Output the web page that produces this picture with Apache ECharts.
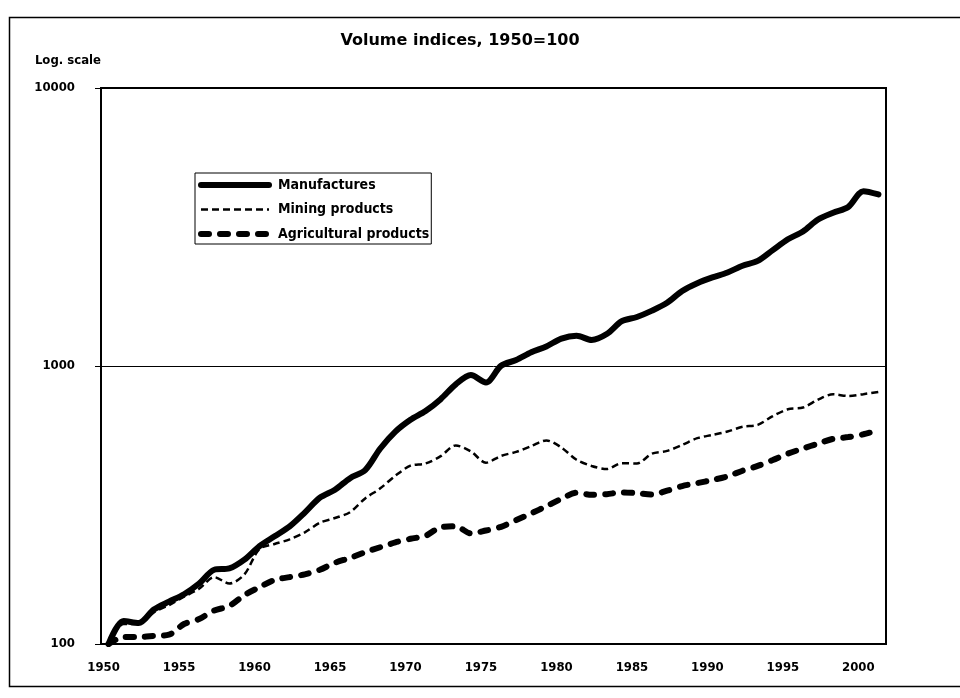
<!DOCTYPE html>
<html>
<head>
    <meta charset="utf-8">
    <title>Volume indices, 1950=100</title>
    <script src="https://cdn.jsdelivr.net/npm/echarts@6/dist/echarts.min.js"></script>
    <style>
        html, body { margin: 0; padding: 0; background: #fff; }
        #volumeChart { width: 960px; height: 698px; }
    </style>
</head>
<body>
<div id="volumeChart"></div>

<script type="text/javascript">
    // years on the category axis
    var years = [];
    for (var y = 1950; y <= 2001; y++) years.push(String(y));

    // volume indices, 1950=100
    var manufactures = [100, 121, 119, 133, 142, 151, 165, 185, 187, 201,
        225, 244, 265, 297, 336, 359, 395, 422, 505, 581,
        641, 689, 760, 859, 928, 872, 1002, 1051, 1121, 1176,
        1255, 1285, 1241, 1303, 1449, 1501, 1582, 1688, 1861, 1985,
        2083, 2170, 2294, 2388, 2611, 2856, 3048, 3363, 3558, 3733,
        4253, 4141];
    var mining = [100, 118, 118, 130, 138, 148, 158, 174, 165, 178,
        220, 229, 238, 252, 273, 284, 298, 334, 363, 403,
        438, 446, 474, 518, 493, 449, 475, 491, 515, 540,
        509, 460, 437, 426, 447, 446, 484, 495, 520, 550,
        565, 581, 605, 614, 660, 699, 709, 757, 791, 780,
        792, 807];
    var agricultural = [100, 106, 106, 107, 108, 118, 123, 132, 137, 150,
        160, 170, 174, 178, 185, 196, 204, 214, 223, 232,
        239, 245, 263, 265, 250, 256, 264, 279, 295, 313,
        333, 350, 344, 346, 351, 349, 345, 356, 370, 379,
        389, 401, 420, 437, 459, 484, 505, 526, 547, 555,
        568, 587];
    var yTicks = [100, 1000, 10000];

    var labelFont = "'DejaVu Sans Condensed', 'DejaVu Sans', sans-serif";

    // line looks, shared by series and legend
    var manuLine = { color: '#000', width: 6, type: 'solid', cap: 'round', join: 'round' };
    var miningLine = { color: '#000', width: 2.5, type: [7, 4] };
    var agriLine = { color: '#000', width: 6, type: [8, 11], cap: 'round' };

    var myChart = echarts.init(document.getElementById('volumeChart'));
    myChart.setOption({
        animation: false,
        backgroundColor: '#fff',
        title: {
            text: 'Volume indices, 1950=100',
            left: 460,
            top: 33,
            padding: 0,
            textAlign: 'center',
            textStyle: {
                fontFamily: "'DejaVu Sans', sans-serif",
                fontSize: 16,
                fontWeight: 'bold',
                color: '#000'
            }
        },
        // outer frame of the figure
        graphic: [{
            type: 'rect',
            left: 7,
            top: 15,
            silent: true,
            z: -1,
            shape: { width: 980, height: 669 },
            style: { fill: 'none', stroke: '#000', lineWidth: 1.5 }
        }],
        legend: {
            orient: 'vertical',
            left: 195,
            top: 173,
            padding: [5, 2, 3, 3],
            itemWidth: 68,
            itemHeight: 14,
            itemGap: 10.5,
            backgroundColor: '#fff',
            borderColor: '#000',
            borderWidth: 1,
            borderRadius: 0,
            itemStyle: { opacity: 0 },
            textStyle: {
                fontFamily: labelFont,
                fontSize: 14,
                fontWeight: 'bold',
                color: '#000',
                padding: [0, 0, 0, 4]
            },
            data: [
                { name: 'Manufactures', lineStyle: manuLine },
                { name: 'Mining products', lineStyle: miningLine },
                { name: 'Agricultural products', lineStyle: agriLine }
            ]
        },
        grid: {
            left: 101,
            right: 74,
            top: 88,
            bottom: 54,
            show: true,
            borderColor: '#000',
            borderWidth: 2,
            backgroundColor: 'transparent'
        },
        xAxis: {
            type: 'category',
            data: years,
            boundaryGap: true,
            axisLine: { lineStyle: { color: '#000', width: 2 } },
            axisTick: { inside: true, length: 5, interval: 0, lineStyle: { color: '#000', width: 1 } },
            axisLabel: {
                interval: 4,
                margin: 17,
                padding: [0, 10, 0, 0],
                fontFamily: labelFont,
                fontSize: 13,
                fontWeight: 'bold',
                color: '#000'
            },
            splitLine: { show: false }
        },
        yAxis: {
            type: 'log',
            logBase: 10,
            min: yTicks[0],
            max: yTicks[yTicks.length - 1],
            name: 'Log. scale',
            nameLocation: 'end',
            nameGap: 27,
            nameTextStyle: {
                align: 'right',
                verticalAlign: 'middle',
                fontFamily: labelFont,
                fontSize: 13,
                fontWeight: 'bold',
                color: '#000'
            },
            axisLine: { show: true, lineStyle: { color: '#000', width: 2 } },
            axisTick: { show: true, length: 6, lineStyle: { color: '#000', width: 1 } },
            axisLabel: {
                margin: 26,
                formatter: function (v) { return String(Math.round(v)); },
                fontFamily: labelFont,
                fontSize: 13,
                fontWeight: 'bold',
                color: '#000'
            },
            splitLine: { show: true, lineStyle: { color: '#000', width: 1 } },
            minorTick: { show: false }
        },
        series: [{
            name: 'Manufactures',
            type: 'line',
            data: manufactures,
            smooth: 0.3,
            symbol: 'none',
            lineStyle: manuLine,
            itemStyle: { color: '#000' },
            z: 3
        }, {
            name: 'Mining products',
            type: 'line',
            data: mining,
            smooth: 0.3,
            symbol: 'none',
            lineStyle: miningLine,
            itemStyle: { color: '#000' },
            z: 2
        }, {
            name: 'Agricultural products',
            type: 'line',
            data: agricultural,
            smooth: 0.3,
            symbol: 'none',
            lineStyle: agriLine,
            itemStyle: { color: '#000' },
            z: 2
        }]
    });
</script>
</body>
</html>
